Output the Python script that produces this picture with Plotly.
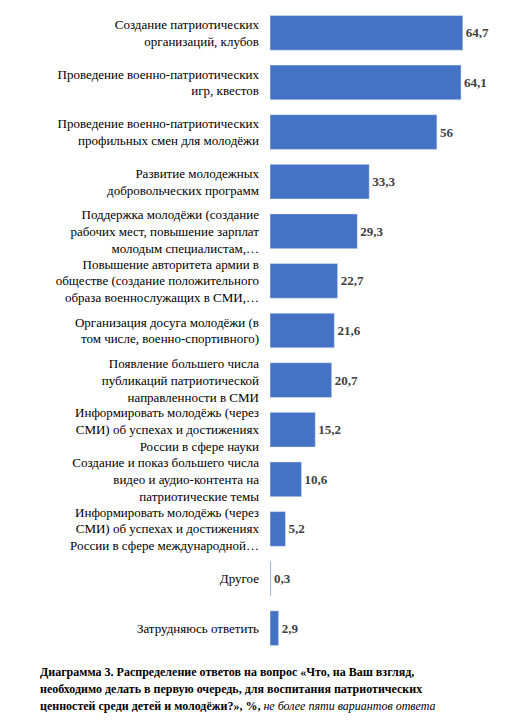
import plotly.graph_objects as go

categories = [
    "Создание патриотических<br>организаций, клубов",
    "Проведение военно-патриотических<br>игр, квестов",
    "Проведение военно-патриотических<br>профильных смен для молодёжи",
    "Развитие молодежных<br>добровольческих программ",
    "Поддержка молодёжи (создание<br>рабочих мест, повышение зарплат<br>молодым специалистам,…",
    "Повышение авторитета армии в<br>обществе (создание положительного<br>образа военнослужащих в СМИ,…",
    "Организация досуга молодёжи (в<br>том числе, военно-спортивного)",
    "Появление большего числа<br>публикаций патриотической<br>направленности в СМИ",
    "Информировать молодёжь (через<br>СМИ) об успехах и достижениях<br>России в сфере науки",
    "Создание и показ большего числа<br>видео и аудио-контента на<br>патриотические темы",
    "Информировать молодёжь (через<br>СМИ) об успехах и достижениях<br>России в сфере международной…",
    "Другое",
    "Затрудняюсь ответить",
]
values = [64.7, 64.1, 56, 33.3, 29.3, 22.7, 21.6, 20.7, 15.2, 10.6, 5.2, 0.3, 2.9]
value_labels = ["64,7", "64,1", "56", "33,3", "29,3", "22,7", "21,6", "20,7", "15,2", "10,6", "5,2", "0,3", "2,9"]

font = "Liberation Serif"

fig = go.Figure(go.Bar(
    x=values, y=categories, orientation="h",
    marker_color="#4472C4",
    text=["<b>%s</b>" % v for v in value_labels],
    textposition="outside", cliponaxis=False,
    textfont=dict(family=font, size=13, color="#404040"),
))

left, right = 262, 16
top, bottom = 0, 75
pw = 506 - left - right
ph = 720 - top - bottom

def px(x):
    return (x - left) / pw

def py(y):
    return (720 - bottom - y) / ph

caption = [
    "<b>Диаграмма 3. Распределение ответов на вопрос «Что, на Ваш взгляд,</b>",
    "<b>необходимо делать в первую очередь, для воспитания патриотических</b>",
    "<b>ценностей среди детей и молодёжи?», %,</b> <i>не более пяти вариантов ответа</i>",
]
annotations = []
for i, line in enumerate(caption):
    annotations.append(dict(
        text=line, xref="paper", yref="paper", x=px(30), y=py(655 + i * 17),
        xanchor="left", yanchor="top", showarrow=False,
        font=dict(family=font, size=12, color="black"),
    ))

fig.update_layout(
    width=506, height=720,
    margin=dict(l=left, r=right, t=top, b=bottom),
    plot_bgcolor="white", paper_bgcolor="white",
    bargap=0.3, showlegend=False,
    font=dict(family=font, size=13, color="black"),
    xaxis=dict(range=[0, 76.5], visible=False),
    yaxis=dict(autorange="reversed", automargin=False, ticks="", ticklabelstandoff=10,
               showline=False, tickfont=dict(family=font, size=13, color="black")),
    annotations=annotations,
)

fig.write_html("out.html")
